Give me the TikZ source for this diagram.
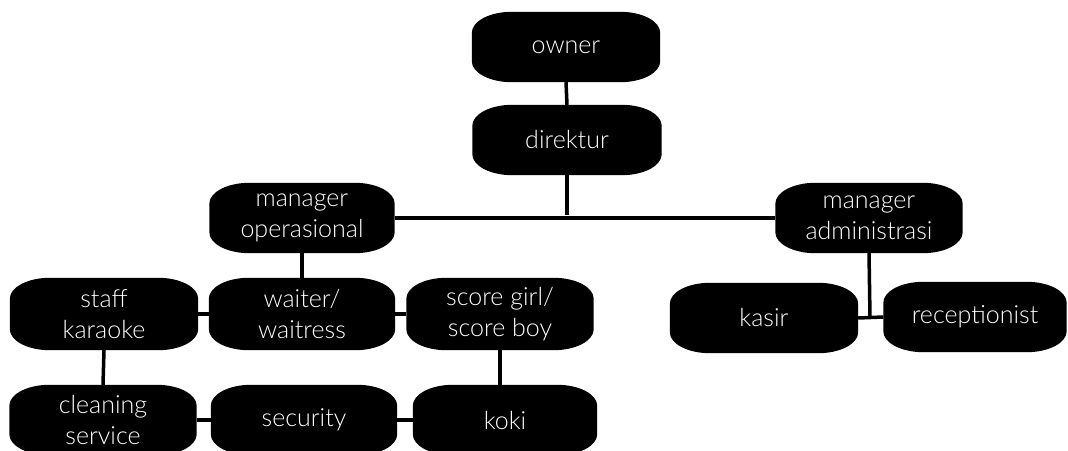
\documentclass[tikz,border=0pt]{standalone}
\usepackage{fontspec}
\setmainfont{Lato Light}
\usetikzlibrary{backgrounds}
\newcommand\eboxfill[1]{%
  \fill[black] ([xshift=40pt]#1.north west) -- ([xshift=-40pt]#1.north east)
    arc[start angle=90, end angle=0, x radius=40pt, y radius=21pt]
    -- ([yshift=21pt]#1.south east)
    arc[start angle=0, end angle=-90, x radius=40pt, y radius=21pt]
    -- ([xshift=40pt]#1.south west)
    arc[start angle=270, end angle=180, x radius=40pt, y radius=21pt]
    -- ([yshift=-21pt]#1.north west)
    arc[start angle=180, end angle=90, x radius=40pt, y radius=21pt]
    -- cycle;}
\begin{document}
\begin{tikzpicture}[x=1pt,y=-1pt,
  box/.style={text=white, align=center, inner sep=0pt,
    font=\fontsize{25}{31}\selectfont},
  link/.style={line width=3.5pt, draw=black}]
\useasboundingbox (0,0) rectangle (1068,450);
\node[box, minimum width=188pt, minimum height=70pt] (owner) at (566,47) {owner};
\node[box, minimum width=189pt, minimum height=70pt] (dir) at (567,140) {direktur};
\node[box, minimum width=185pt, minimum height=70pt] (mop) at (302,218) {manager\\operasional};
\node[box, minimum width=187pt, minimum height=70pt] (madm) at (869,218) {manager\\administrasi};
\node[box, minimum width=188pt, minimum height=72pt] (staff) at (104,314) {staff\\karaoke};
\node[box, minimum width=186pt, minimum height=72pt] (waiter) at (302,314) {waiter/\\waitress};
\node[box, minimum width=187pt, minimum height=72pt] (score) at (500,314) {score girl/\\score boy};
\node[box, minimum width=188pt, minimum height=70pt] (kasir) at (764,318) {kasir};
\node[box, minimum width=183pt, minimum height=70pt] (recep) at (975,317) {receptionist};
\node[box, minimum width=187pt, minimum height=70pt] (clean) at (103,420) {cleaning\\service};
\node[box, minimum width=186pt, minimum height=70pt] (secur) at (304,420) {security};
\node[box, minimum width=184pt, minimum height=70pt] (koki) at (505,420) {koki};
\coordinate (hub) at (567,215);
\coordinate (adm) at (870,317);
\begin{scope}[on background layer]
  \fill[white] (0,0) rectangle (1068,450);
  \foreach \n in {owner,dir,mop,madm,staff,waiter,score,kasir,recep,clean,secur,koki}{\eboxfill{\n}}
\end{scope}
\draw[link] (owner.south) -- (dir.north);
\draw[link] (dir.south) -- (hub);
\draw[link] (mop.east) -- (madm.west);
\draw[link] (mop.south) -- (waiter.north);
\draw[link] (staff.east) -- (waiter.west);
\draw[link] (waiter.east) -- (score.west);
\draw[link] (staff.south) -- (clean.north);
\draw[link] (score.south) -- (score.south |- koki.north);
\draw[link] (clean.east) -- (secur.west);
\draw[link] (secur.east) -- (koki.west);
\draw[link] (madm.south) -- (adm);
\draw[link] (kasir.east) -- (recep.west);
\end{tikzpicture}
\end{document}
